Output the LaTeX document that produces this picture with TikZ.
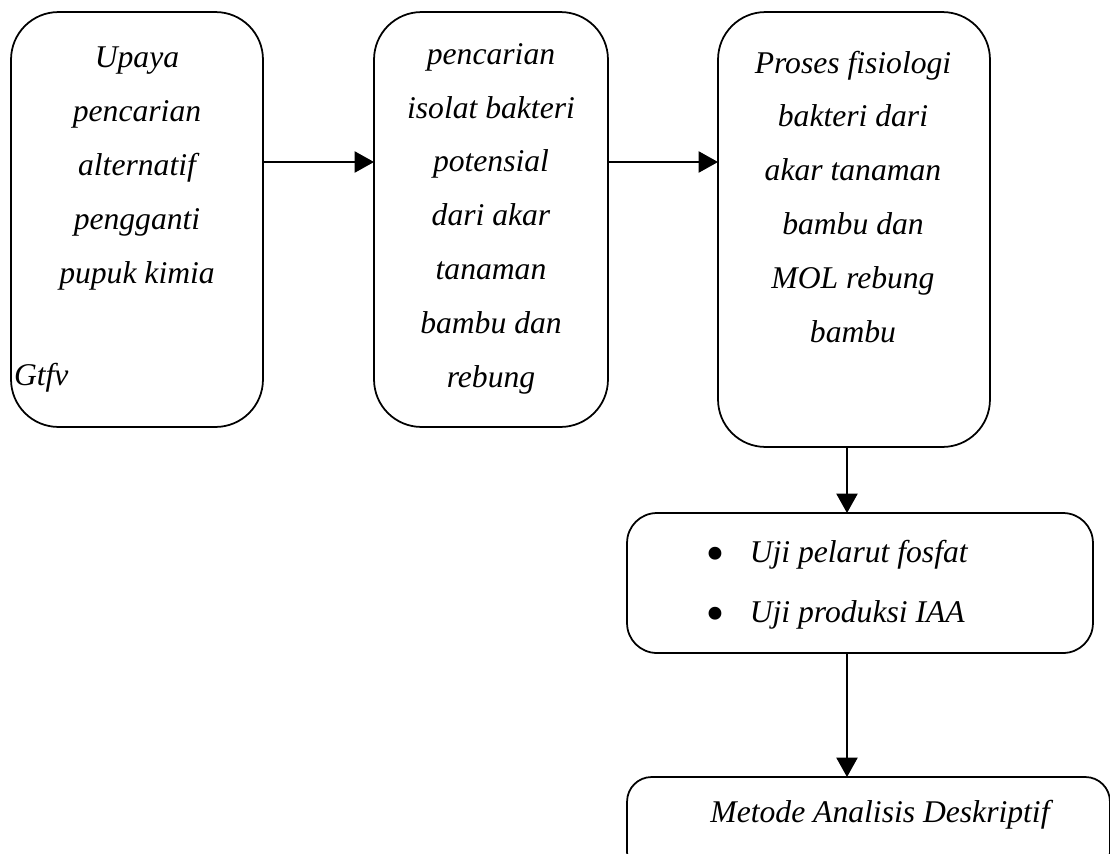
\documentclass[tikz,border=0pt]{standalone}
\usepackage{fontspec}
\setmainfont{Liberation Serif}
\usetikzlibrary{arrows.meta,positioning}
\newcommand{\blt}{\makebox[25.5pt][l]{\raisebox{-5.5pt}{\scalebox{1.7}{\textbullet}}}}

\begin{document}
\begin{tikzpicture}[x=0.02cm,y=-0.02cm]
\tikzstyle{every node}=[font=\fontsize{18}{30.6}\selectfont\itshape, inner sep=0pt, outer sep=0pt]
\tikzstyle{box}=[draw, line width=1pt, rounded corners=27pt]
\tikzstyle{arrow}=[line width=1pt, -{Triangle[length=11pt,width=12pt]}]
\useasboundingbox (0,0) rectangle (1110,853);
% boxes
\node[box, minimum width=5.04cm, minimum height=8.3cm] (upaya) at (137,219.5) {};
\node[box, minimum width=4.68cm, minimum height=8.3cm] (isolat) at (491,219.5) {};
\node[box, minimum width=5.44cm, minimum height=8.7cm] (proses) at (854,229.5) {};
\node[box, rounded corners=17pt, minimum width=9.32cm, minimum height=2.8cm] (uji) at (860,583) {};
\node[box, rounded corners=14pt, minimum width=9.66cm, minimum height=2cm] (metode) at (868.5,827) {};
% texts (anchored at the last baseline)
\node[align=center, anchor=base] (upayatxt) at (137,283) {Upaya\\ pencarian\\ alternatif\\ pengganti\\ pupuk kimia};
\node[anchor=base west] (gtfv) at (14,385) {Gtfv};
\node[align=center, anchor=base] (isolattxt) at (491,387) {pencarian\\ isolat bakteri\\ potensial\\ dari akar\\ tanaman\\ bambu dan\\ rebung};
\node[align=center, anchor=base] (prosestxt) at (853,342) {Proses fisiologi\\ bakteri dari\\ akar tanaman\\ bambu dan\\ MOL rebung\\ bambu};
\node[align=left, anchor=base west, font=\fontsize{18}{34}\selectfont\itshape] (ujitxt) at (705,622) {\blt Uji pelarut fosfat\\ \blt Uji produksi IAA};
\node[anchor=base] (metodetxt) at (880,822) {Metode Analisis Deskriptif};
% arrows
\coordinate (row) at (0,162);
\coordinate (col) at (847,0);
\draw[arrow] (upaya.east |- row) -- (isolat.west |- row);
\draw[arrow] (isolat.east |- row) -- (proses.west |- row);
\draw[arrow] (proses.south -| col) -- (uji.north -| col);
\draw[arrow] (uji.south -| col) -- (metode.north -| col);
\end{tikzpicture}
\end{document}
